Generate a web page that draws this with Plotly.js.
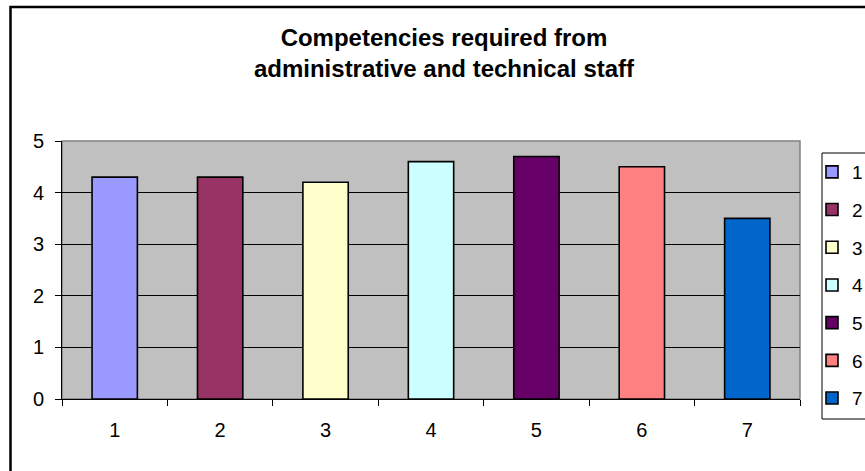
<!DOCTYPE html>
<html>
<head>
<meta charset="utf-8">
<script src="https://cdn.plot.ly/plotly-3.0.1.min.js"></script>
<style>html,body{margin:0;padding:0;background:#fff;}#chart{width:865px;height:471px;}</style>
</head>
<body>
<div id="chart"></div>
<script>
const categories = ["1", "2", "3", "4", "5", "6", "7"];
const values = [4.3, 4.3, 4.2, 4.6, 4.7, 4.5, 3.5];
const colors = ["#9999FF", "#993366", "#FFFFCC", "#CCFFFF", "#660066", "#FF8080", "#0066CC"];
const yTicks = [0, 1, 2, 3, 4, 5];
const titleText = "<b>Competencies required from<br>administrative and technical staff</b>";

const FONT = "Liberation Sans, Arial, sans-serif";

const traces = categories.map((c, i) => ({
  type: "bar",
  x: [c],
  y: [values[i]],
  name: c,
  legendgroup: "g" + c,
  marker: { color: colors[i], line: { color: "#000", width: 1.6 } },
  hoverinfo: "x+y"
}));

const L = 62, R = 800, T = 141, B = 399;
const pw = R - L, ph = B - T;
const px = v => (v - L) / pw;
const py = v => (B - v) / ph;

const layout = {
  width: 865,
  height: 471,
  margin: { l: L, r: 865 - R, t: T, b: 471 - B, autoexpand: false },
  paper_bgcolor: "#ffffff",
  plot_bgcolor: "#C0C0C0",
  barmode: "overlay",
  bargap: 0.57,
  font: { family: FONT, size: 20, color: "#000" },
  title: {
    text: titleText,
    font: { family: FONT, size: 24, color: "#000" },
    x: 444 / 865, xref: "container", xanchor: "center",
    y: 1 - 46 / 471, yref: "container", yanchor: "top"
  },
  xaxis: {
    type: "category",
    categoryorder: "array",
    categoryarray: categories,
    showline: true, linecolor: "#000", linewidth: 1,
    ticks: "outside", ticklen: 6, tickcolor: "#000", tickwidth: 1,
    tickson: "boundaries",
    showgrid: false,
    ticklabelstandoff: 13,
    tickfont: { family: FONT, size: 20, color: "#000" },
    fixedrange: true
  },
  yaxis: {
    range: [0, 5],
    tickvals: yTicks,
    showline: true, linecolor: "#000", linewidth: 1,
    ticks: "outside", ticklen: 6, tickcolor: "#000", tickwidth: 1,
    showgrid: true, gridcolor: "#000", gridwidth: 1,
    zeroline: false,
    ticklabelstandoff: 7,
    tickfont: { family: FONT, size: 20, color: "#000" },
    fixedrange: true
  },
  showlegend: true,
  legend: {
    x: px(812), xanchor: "left",
    y: py(153), yanchor: "top",
    bgcolor: "rgba(0,0,0,0)",
    borderwidth: 0,
    font: { family: FONT, size: 19, color: "#000" },
    tracegroupgap: 10,
    itemwidth: 30
  },
  shapes: [
    { type: "rect", xref: "paper", yref: "paper", x0: 0, x1: 1, y0: 0, y1: 1,
      line: { color: "#808080", width: 1.5 }, layer: "below" },
    { type: "rect", xref: "paper", yref: "paper",
      x0: px(822), x1: px(900), y0: py(419), y1: py(153),
      line: { color: "#000", width: 1 }, fillcolor: "#ffffff", layer: "below" },
    { type: "rect", xref: "paper", yref: "paper",
      x0: px(10.5), x1: 1.3, y0: -0.5, y1: py(7),
      line: { color: "#000", width: 2.5 }, layer: "below" }
  ]
};

Plotly.newPlot("chart", traces, layout, { staticPlot: true, displayModeBar: false });
</script>
</body>
</html>
